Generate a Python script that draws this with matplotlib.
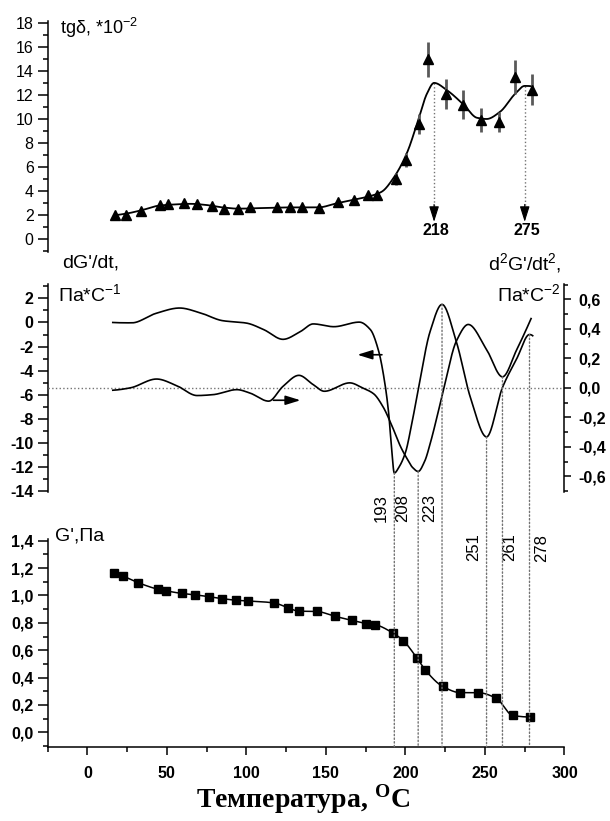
import numpy as np
import matplotlib
matplotlib.use("Agg")
import matplotlib.pyplot as plt
from matplotlib.patches import ConnectionPatch
from matplotlib.ticker import MultipleLocator

plt.rcParams.update({
    "font.family": ["Liberation Sans", "DejaVu Sans"],
    "axes.unicode_minus": False,
    "mathtext.fontset": "custom",
    "mathtext.rm": "Liberation Sans",
    "mathtext.it": "Liberation Sans:italic",
    "mathtext.bf": "Liberation Serif:bold",
    "axes.linewidth": 1.1,
})

# ---------------- tg(delta), *10^-2 ----------------
tg_temp = [17.7, 24, 33.7, 45.7, 51, 60.7, 69, 78.3, 86.2, 95, 102.2, 119.2, 127.5,
           134.8, 145.8, 157.3, 167.7, 176.7, 182.1, 194, 200.4, 208.6, 214, 225.3,
           236.5, 247.5, 259, 269.1, 279.8]
tg_value = [2.02, 2.05, 2.35, 2.88, 2.9, 2.98, 2.9, 2.81, 2.54, 2.48, 2.65, 2.7, 2.66,
            2.66, 2.63, 3.07, 3.28, 3.67, 3.67, 5.0, 6.6, 9.6, 14.95, 12.1,
            11.2, 9.9, 9.75, 13.5, 12.45]
tg_error = [0.25] * 19 + [0.5, 0.55, 0.85, 1.45, 1.25, 1.2, 1.0, 0.87, 1.4, 1.3]

# fitted tg(delta) curve nodes
tgfit_temp = [17, 25, 35, 45, 55, 65, 75, 85, 95, 110, 125, 145, 157, 168, 178, 185,
              193, 201, 208, 213.5, 218, 226, 236.5, 245, 251, 259.5, 269, 275, 280]
tgfit_value = [2.0, 2.15, 2.45, 2.8, 2.9, 2.95, 2.85, 2.65, 2.55, 2.6, 2.65, 2.65, 3.0,
               3.3, 3.6, 3.95, 5.2, 7.2, 9.9, 12.1, 13.0, 12.4, 11.2, 10.1, 10.0,
               10.6, 12.1, 12.75, 12.7]
tg_peaks = [218, 275]

# ---------------- dG'/dt (left) and d2G'/dt2 (right) ----------------
d1_temp = [16, 28, 43, 58, 71, 85, 100, 111, 123, 134, 142, 155, 171, 178, 183, 187,
           189.5, 191.2, 193, 196, 200, 204, 208, 215.5, 223, 232, 241, 251, 261, 270,
           278, 280]
d1_value = [0.0, -0.03, 0.75, 1.2, 0.8, 0.15, -0.05, -0.6, -1.4, -0.75, -0.12, -0.35,
            0.03, -0.6, -2.3, -5.0, -7.6, -10.3, -12.5, -12.0, -10.8, -8.4, -5.6,
            -0.75, 1.5, -1.6, -6.3, -9.5, -5.4, -3.0, -1.0, -1.1]

d2_temp = [16, 27, 43.5, 56, 69, 79, 94, 102, 114, 123, 133, 142, 149, 165, 173, 180,
           186, 192, 197, 201, 204.5, 208, 212, 216, 220, 224, 232, 239.5, 251, 261,
           270, 279]
d2_value = [-0.016, 0.0, 0.06, 0.016, -0.052, -0.046, -0.012, -0.034, -0.09, 0.01,
            0.085, 0.022, -0.023, 0.034, 0.0, -0.04, -0.13, -0.27, -0.40, -0.48, -0.54,
            -0.567, -0.50, -0.36, -0.19, -0.01, 0.317, 0.43, 0.26, 0.075, 0.26, 0.47]

d1_marks = [193, 223, 251, 278]
d2_marks = [208, 261]

# ---------------- G', GPa ----------------
g_temp = [16.5, 22.7, 32, 44.5, 49.7, 59.3, 67.7, 76.7, 84.5, 93.4, 101, 117.4, 126.2,
          133, 144.2, 155.5, 166.3, 175.1, 180.7, 192.2, 198.6, 207.4, 212.5, 223.5,
          234.5, 245.5, 257, 267.5, 278.3]
g_value = [1.165, 1.14, 1.093, 1.045, 1.033, 1.015, 1.005, 0.99, 0.977, 0.965, 0.96,
           0.945, 0.91, 0.885, 0.883, 0.848, 0.818, 0.795, 0.787, 0.725, 0.67, 0.54,
           0.455, 0.335, 0.29, 0.29, 0.25, 0.123, 0.112]

# ---------------- ticks ----------------
x_ticks = [0, 50, 100, 150, 200, 250, 300]
tg_ticks = [0, 2, 4, 6, 8, 10, 12, 14, 16, 18]
d1_ticks = [-14, -12, -10, -8, -6, -4, -2, 0, 2]
d2_ticks = [-0.6, -0.4, -0.2, 0.0, 0.2, 0.4, 0.6]
d2_tick_labels = ["-0,6", "-0,4", "-0,2", "0,0", "0,2", "0,4", "0,6"]
g_ticks = [0.0, 0.2, 0.4, 0.6, 0.8, 1.0, 1.2, 1.4]
g_tick_labels = ["0,0", "0,2", "0,4", "0,6", "0,8", "1,0", "1,2", "1,4"]


def pchip(x, y, xs):
    """Shape-preserving piecewise cubic Hermite curve through the nodes."""
    x = np.asarray(x, float)
    y = np.asarray(y, float)
    xs = np.asarray(xs, float)
    h = np.diff(x)
    d = np.diff(y) / h
    n = len(x)
    m = np.zeros(n)
    for k in range(1, n - 1):
        if d[k - 1] * d[k] > 0:
            w1 = 2 * h[k] + h[k - 1]
            w2 = h[k] + 2 * h[k - 1]
            m[k] = (w1 + w2) / (w1 / d[k - 1] + w2 / d[k])

    def end(h0, h1, e0, e1):
        s = ((2 * h0 + h1) * e0 - h0 * e1) / (h0 + h1)
        if np.sign(s) != np.sign(e0):
            s = 0.0
        elif np.sign(e0) != np.sign(e1) and abs(s) > abs(3 * e0):
            s = 3 * e0
        return s

    m[0] = end(h[0], h[1], d[0], d[1])
    m[-1] = end(h[-1], h[-2], d[-1], d[-2])
    i = np.clip(np.searchsorted(x, xs) - 1, 0, n - 2)
    t = (xs - x[i]) / h[i]
    h00 = 2 * t**3 - 3 * t**2 + 1
    h10 = t**3 - 2 * t**2 + t
    h01 = -2 * t**3 + 3 * t**2
    h11 = t**3 - t**2
    return h00 * y[i] + h10 * h[i] * m[i] + h01 * y[i + 1] + h11 * h[i] * m[i + 1]


fig = plt.figure(figsize=(6.1, 8.21), dpi=100)
L, W = 0.078, 0.8474
ax_tg = fig.add_axes([L, 0.6934, W, 0.2814])
ax_d1 = fig.add_axes([L, 0.4013, W, 0.2527])
ax_d2 = ax_d1.twinx()
ax_g = fig.add_axes([L, 0.0905, W, 0.2526])

for ax in (ax_tg, ax_d1, ax_d2, ax_g):
    ax.set_xlim(-25, 300)
    ax.patch.set_visible(False)
    for s in ax.spines.values():
        s.set_visible(False)

tick_kw = dict(direction="out", width=1.1, colors="black")

# ---- top panel: tg(delta) ----
ax_tg.set_ylim(-1.03, 18.17)
ax_tg.spines["left"].set_visible(True)
ax_tg.tick_params(axis="x", which="both", bottom=False, labelbottom=False)
ax_tg.set_yticks(tg_ticks)
ax_tg.set_yticklabels([str(v) for v in tg_ticks], fontsize=11.5)
ax_tg.yaxis.set_minor_locator(MultipleLocator(1))
ax_tg.tick_params(axis="y", which="major", length=7, pad=3, **tick_kw)
ax_tg.tick_params(axis="y", which="minor", length=3.5, **tick_kw)

xs = np.linspace(tgfit_temp[0], tgfit_temp[-1], 800)
ax_tg.plot(xs, pchip(tgfit_temp, tgfit_value, xs), color="black", lw=1.3, zorder=2)
ax_tg.errorbar(tg_temp, tg_value, yerr=tg_error, fmt="none", ecolor="0.35",
               elinewidth=2, capsize=0, zorder=3)
ax_tg.plot(tg_temp, tg_value, ls="none", marker="^", ms=7, color="black", zorder=4)

for t in tg_peaks:
    top = float(pchip(tgfit_temp, tgfit_value, [t])[0])
    ax_tg.plot([t, t], [top, 2.8], color="0.45", lw=1.0, ls=":", zorder=1)
    ax_tg.annotate("", xy=(t, 1.45), xytext=(t, 2.9),
                   arrowprops=dict(arrowstyle="-|>,head_length=0.95,head_width=0.3",
                                   color="black", lw=0.8, shrinkA=0, shrinkB=0))
    ax_tg.text(t + 1.2, 0.75, str(t), ha="center", va="center", fontsize=11.5,
               fontweight="bold")

fig.text(60 / 610, 1 - 28 / 821, "tgδ, *10$^{-2}$", ha="left", va="center", fontsize=13)

# ---- middle panel: derivatives ----
ax_d1.set_ylim(-14.04, 3.19)
ax_d2.set_ylim(-0.703, 0.704)
ax_d1.spines["left"].set_visible(True)
ax_d2.spines["right"].set_visible(True)
for ax in (ax_d1, ax_d2):
    ax.tick_params(axis="x", which="both", bottom=False, top=False,
                   labelbottom=False, labeltop=False)
ax_d1.set_yticks(d1_ticks)
ax_d1.set_yticklabels([str(v) for v in d1_ticks], fontsize=11.5, fontweight="bold")
ax_d1.yaxis.set_minor_locator(MultipleLocator(1))
ax_d1.tick_params(axis="y", which="major", length=7, pad=3, **tick_kw)
ax_d1.tick_params(axis="y", which="minor", length=3.5, **tick_kw)

ax_d2.set_yticks(d2_ticks)
ax_d2.set_yticklabels(d2_tick_labels, fontsize=11.5, fontweight="bold")
ax_d2.yaxis.set_minor_locator(MultipleLocator(0.1))
ax_d2.tick_params(axis="y", which="major", length=5, pad=5, **tick_kw)
ax_d2.tick_params(axis="y", which="minor", length=3, **tick_kw)

ax_d2.axhline(0, color="0.45", lw=1.0, ls=":", zorder=1)

xs1 = np.linspace(d1_temp[0], d1_temp[-1], 1200)
ax_d1.plot(xs1, pchip(d1_temp, d1_value, xs1), color="black", lw=1.2)
xs2 = np.linspace(d2_temp[0], d2_temp[-1], 1200)
ax_d2.plot(xs2, pchip(d2_temp, d2_value, xs2), color="black", lw=1.2)

arrow_kw = dict(arrowstyle="-|>,head_length=0.9,head_width=0.28", color="black",
                lw=1.2, shrinkA=0, shrinkB=0)
ax_d1.annotate("", xy=(169.8, -2.68), xytext=(185.2, -2.68), arrowprops=arrow_kw)
ax_d2.annotate("", xy=(134, -0.084), xytext=(117, -0.084), arrowprops=arrow_kw)

fig.text(91 / 610, 1 - 263 / 821, "dG'/dt,", ha="center", va="center", fontsize=14)
fig.text(58 / 610, 1 - 294 / 821, "Па*C$^{-1}$", ha="left", va="center", fontsize=14)
fig.text(561 / 610, 1 - 263 / 821, "d$^2$G'/dt$^2$,", ha="right", va="center",
         fontsize=14)
fig.text(561 / 610, 1 - 294 / 821, "Па*C$^{-2}$", ha="right", va="center", fontsize=14)

# ---- bottom panel: G' ----
ax_g.set_ylim(-0.105, 1.41)
ax_g.spines["left"].set_visible(True)
ax_g.spines["bottom"].set_visible(True)
ax_g.set_yticks(g_ticks)
ax_g.set_yticklabels(g_tick_labels, fontsize=11.5, fontweight="bold")
ax_g.yaxis.set_minor_locator(MultipleLocator(0.1))
ax_g.tick_params(axis="y", which="major", length=7, pad=3, **tick_kw)
ax_g.tick_params(axis="y", which="minor", length=3.5, **tick_kw)
ax_g.set_xticks(x_ticks)
ax_g.set_xticklabels([str(v) for v in x_ticks], fontsize=11.5, fontweight="bold")
ax_g.xaxis.set_minor_locator(MultipleLocator(25))
ax_g.tick_params(axis="x", which="major", length=6, pad=8, **tick_kw)
ax_g.tick_params(axis="x", which="minor", length=3.5, **tick_kw)

xsg = np.linspace(g_temp[0], g_temp[-1], 800)
ax_g.plot(xsg, pchip(g_temp, g_value, xsg), color="black", lw=1.1)
ax_g.plot(g_temp, g_value, ls="none", marker="s", ms=5.5, color="black")

fig.text(55 / 610, 1 - 536 / 821, "G',Па", ha="left", va="center", fontsize=14)

# ---- dotted guides from derivative extrema down to the temperature axis ----
label_pos = {193: (-9.5, 508), 208: (-11, 508), 223: (-9.2, 508),
             251: (-9.2, 547), 261: (4.8, 547), 278: (9, 548)}
guides = [(t, ax_d1, d1_temp, d1_value) for t in d1_marks] + \
         [(t, ax_d2, d2_temp, d2_value) for t in d2_marks]
for t, ax, tx, tv in guides:
    yv = float(pchip(tx, tv, [t])[0])
    con = ConnectionPatch(xyA=(t, yv), coordsA=ax.transData,
                          xyB=(t, -0.105), coordsB=ax_g.transData,
                          color="0.45", lw=1.0, ls=":", zorder=1)
    fig.add_artist(con)
    dx, ypix = label_pos[t]
    ax_g.annotate(str(t), xy=(t, 1 - ypix / 821), xycoords=("data", "figure fraction"),
                  xytext=(dx, 0), textcoords="offset points", rotation=90,
                  ha="center", va="center", fontsize=12, annotation_clip=False)

fig.text(0.497, 1 - 808 / 821, "Температура, $^{\\mathbf{O}}$C", ha="center",
         va="baseline", fontsize=20, fontweight="bold",
         family=["Liberation Serif", "DejaVu Serif"])

fig.savefig("out.png", dpi=100)
